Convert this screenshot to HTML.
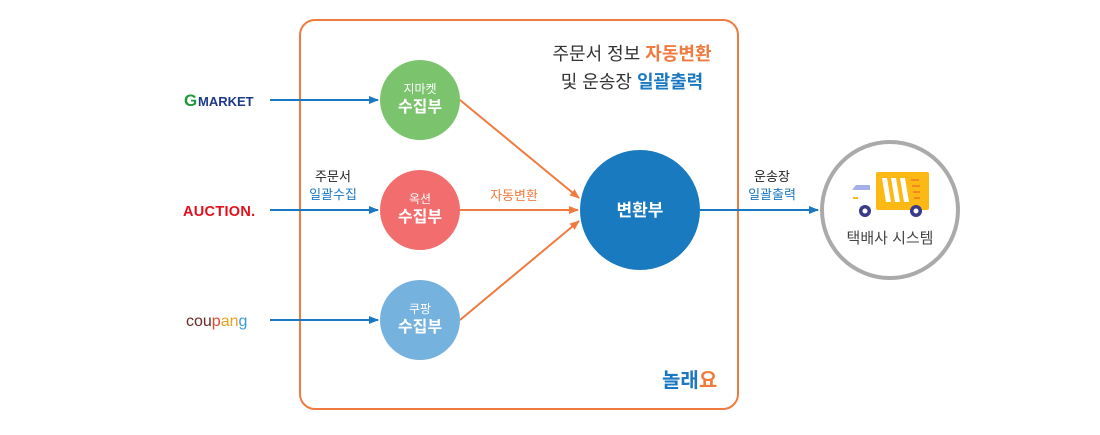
<!DOCTYPE html>
<html><head><meta charset="utf-8"><style>
body{margin:0;background:#fff}
text{font-family:"Liberation Sans","Noto Sans CJK KR",sans-serif}
</style></head><body>
<svg width="1100" height="430" viewBox="0 0 1100 430" xmlns="http://www.w3.org/2000/svg">
<defs>
<marker id="ab" markerWidth="10" markerHeight="10" refX="9" refY="5" orient="auto" markerUnits="userSpaceOnUse"><path d="M0,1 L10,5 L0,9 Z" fill="#1a78c2"/></marker>
<marker id="ao" markerWidth="10" markerHeight="10" refX="9" refY="5" orient="auto" markerUnits="userSpaceOnUse"><path d="M0,1 L10,5 L0,9 Z" fill="#f07b3f"/></marker>
</defs>
<rect x="300" y="20" width="438" height="389" rx="15" fill="none" stroke="#f07b3f" stroke-width="2"/>
<text x="632" y="60" text-anchor="middle" font-size="18" fill="#333">주문서 정보 <tspan fill="#f07b3f" font-weight="bold">자동변환</tspan></text>
<text x="632" y="88" text-anchor="middle" font-size="18" fill="#333">및 운송장 <tspan fill="#1a78c2" font-weight="bold">일괄출력</tspan></text>
<!-- logos -->
<text x="184" y="106" font-size="17" font-weight="bold" fill="#1e9a3c">G</text>
<text x="198" y="106" font-size="13" font-weight="bold" fill="#1d3a8a">MARKET</text>
<text x="183" y="216" font-size="14.5" font-weight="900" fill="#e3101b" letter-spacing="0.3">AUCTION.</text>
<text x="186" y="326" font-size="16" fill="#6b2a22">cou<tspan fill="#e04a2a">p</tspan><tspan fill="#f0a020">an</tspan><tspan fill="#3a9ad9">g</tspan></text>
<!-- blue arrows -->
<line x1="270" y1="100" x2="378" y2="100" stroke="#1a78c2" stroke-width="2" marker-end="url(#ab)"/>
<line x1="270" y1="210" x2="378" y2="210" stroke="#1a78c2" stroke-width="2" marker-end="url(#ab)"/>
<line x1="270" y1="320" x2="378" y2="320" stroke="#1a78c2" stroke-width="2" marker-end="url(#ab)"/>
<text x="333" y="181" text-anchor="middle" font-size="13" fill="#222">주문서</text>
<text x="333" y="199" text-anchor="middle" font-size="13" fill="#1a78c2">일괄수집</text>
<!-- orange -->
<line x1="460" y1="100" x2="579" y2="198" stroke="#f07b3f" stroke-width="2" marker-end="url(#ao)"/>
<line x1="460" y1="210" x2="578" y2="210" stroke="#f07b3f" stroke-width="2" marker-end="url(#ao)"/>
<line x1="460" y1="320" x2="579" y2="221" stroke="#f07b3f" stroke-width="2" marker-end="url(#ao)"/>
<text x="514" y="200" text-anchor="middle" font-size="13" fill="#f07b3f">자동변환</text>
<!-- circles -->
<circle cx="420" cy="100" r="40" fill="#7cc36e"/>
<text x="420" y="93" text-anchor="middle" font-size="12" fill="#fff">지마켓</text>
<text x="420" y="112" text-anchor="middle" font-size="16" font-weight="bold" fill="#fff">수집부</text>
<circle cx="420" cy="210" r="40" fill="#f26d6d"/>
<text x="420" y="203" text-anchor="middle" font-size="12" fill="#fff">옥션</text>
<text x="420" y="222" text-anchor="middle" font-size="16" font-weight="bold" fill="#fff">수집부</text>
<circle cx="420" cy="320" r="40" fill="#76b2de"/>
<text x="420" y="313" text-anchor="middle" font-size="12" fill="#fff">쿠팡</text>
<text x="420" y="332" text-anchor="middle" font-size="16" font-weight="bold" fill="#fff">수집부</text>
<circle cx="640" cy="210" r="60" fill="#1a7ac0"/>
<text x="640" y="216" text-anchor="middle" font-size="17" font-weight="bold" fill="#fff">변환부</text>
<!-- output arrow -->
<line x1="700" y1="210" x2="818" y2="210" stroke="#1a78c2" stroke-width="2" marker-end="url(#ab)"/>
<text x="772" y="181" text-anchor="middle" font-size="13" fill="#222">운송장</text>
<text x="772" y="199" text-anchor="middle" font-size="13" fill="#1a78c2">일괄출력</text>
<circle cx="890" cy="210" r="68" fill="#fff" stroke="#aaa" stroke-width="4"/>
<!-- truck -->
<rect x="876" y="172" width="53" height="38" rx="2" fill="#fdb913"/>
<path d="M882,178 h5 l4,24 h-5 z M891,178 h5 l4,24 h-5 z M900,178 h5 l4,24 h-5 z" fill="#fff"/>
<path d="M911,180h8M912,186h8M913,192h7M914,198h6" stroke="#f08a20" stroke-width="2"/>
<path d="M852,190 l4,-5 h14 v5 z" fill="#a6b0e8"/>
<rect x="853" y="197" width="5" height="2" fill="#fdb913"/>
<circle cx="865" cy="211" r="6" fill="#3a3a8a"/><circle cx="865" cy="211" r="2.5" fill="#fff"/>
<circle cx="916" cy="211" r="6" fill="#3a3a8a"/><circle cx="916" cy="211" r="2.5" fill="#fff"/>
<text x="890" y="243" text-anchor="middle" font-size="15" fill="#444">택배사 시스템</text>
<!-- logo -->
<text x="662" y="387" font-size="20" font-weight="bold" fill="#1a78c2">놀래<tspan fill="#f07b3f">요</tspan></text>
</svg>
</body></html>
